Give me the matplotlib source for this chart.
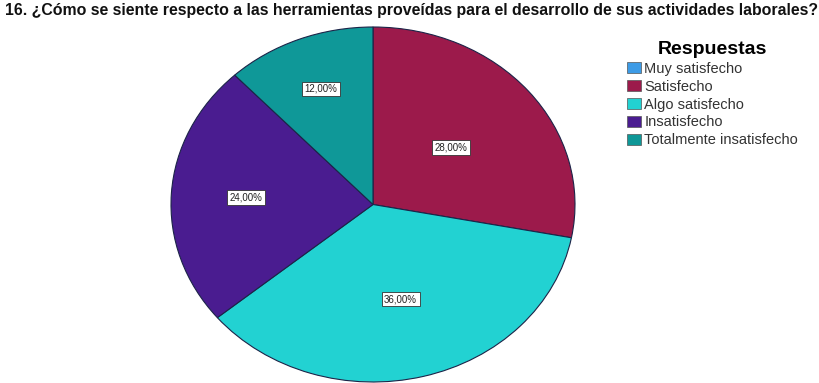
import numpy as np
import matplotlib
matplotlib.use('Agg')
import matplotlib.pyplot as plt
from matplotlib.patches import Patch

plt.rcParams['font.family'] = ['Liberation Sans', 'DejaVu Sans']

title = '16. ¿Cómo se siente respecto a las herramientas proveídas para el desarrollo de sus actividades laborales?'
categories = ['Muy satisfecho', 'Satisfecho', 'Algo satisfecho', 'Insatisfecho',
              'Totalmente insatisfecho']
percents = [0.0, 28.0, 36.0, 24.0, 12.0]
colors = ['#3d9be6', '#9c1a4b', '#22d2d2', '#4a1c90', '#0f9898']

# radial position of each percentage label (fraction of radius)
label_r = [0.6, 0.5, 0.55, 0.63, 0.7]

W, H = 819, 383
fig = plt.figure(figsize=(W / 100, H / 100), dpi=100)

# pie is drawn stretched horizontally, so use a non-equal aspect
cx, cy, rx, ry = 373, 204.5, 202, 177.5
ax = fig.add_axes([(cx - rx) / W, (H - cy - ry) / H, 2 * rx / W, 2 * ry / H])

shown = [(p, c) for p, c in zip(percents, colors) if p > 0]
wedges, _ = ax.pie([p for p, _ in shown], colors=[c for _, c in shown],
                   startangle=90, counterclock=False,
                   wedgeprops=dict(edgecolor='#1c2448', linewidth=0.8))
ax.set_aspect('auto')
ax.set_xlim(-1, 1)
ax.set_ylim(-1, 1)

radii = [r for p, r in zip(percents, label_r) if p > 0]
for w, (p, _), r in zip(wedges, shown, radii):
    mid = np.deg2rad((w.theta1 + w.theta2) / 2)
    ax.text(r * np.cos(mid), r * np.sin(mid), f'{p:.2f}%'.replace('.', ','),
            ha='center', va='center', fontsize=7, color='#222222',
            bbox=dict(boxstyle='square,pad=0.25', facecolor='white',
                      edgecolor='#333333', linewidth=0.6))

fig.text(0.006, 1 - 10 / H, title, ha='left', va='center', fontsize=11.4,
         fontweight='bold', color='#111111')

handles = [Patch(facecolor=c, edgecolor='#555555', linewidth=0.5) for c in colors]
leg = fig.legend(handles, categories, loc='upper left',
                 bbox_to_anchor=(618 / W, 1 - 32 / H), frameon=False,
                 fontsize=10.5, title='Respuestas',
                 title_fontproperties={'weight': 'bold', 'size': 14},
                 handlelength=1.0, handleheight=0.75, handletextpad=0.2,
                 labelspacing=0.27, borderpad=0.1)
for t in leg.get_texts():
    t.set_color('#333333')

fig.savefig('out.png', dpi=100)
